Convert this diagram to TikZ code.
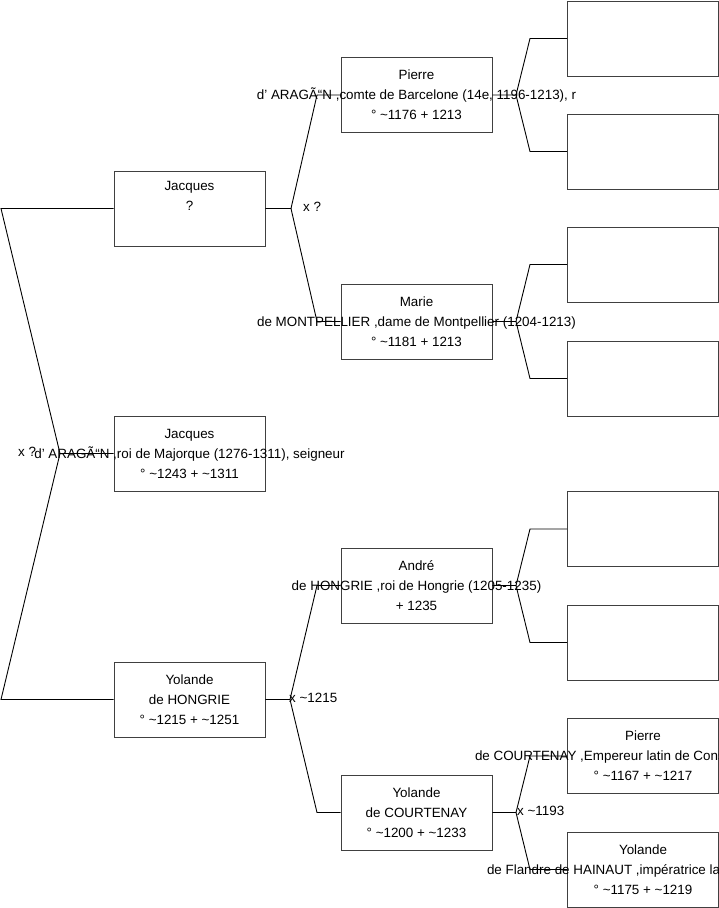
\documentclass[tikz,border=0pt]{standalone}
\usepackage{fontspec}
\setmainfont{Liberation Sans}
\newcommand\ctl[1]{\makebox[0pt]{#1}}
\newcommand\lft[2]{\makebox[0pt][l]{\hspace*{#1}#2}}
\begin{document}
\begin{tikzpicture}[x=1pt,y=-1pt,
  box/.style={draw=black!75,line width=0.9pt,rectangle,minimum width=151pt,minimum height=75pt,inner sep=0pt,align=center,font=\fontsize{13.4}{20}\selectfont},
  conn/.style={draw=black,line width=0.9pt},
  lbl/.style={anchor=west,inner sep=0pt,font=\fontsize{13.4}{15}\selectfont}]
\useasboundingbox (0,0) rectangle (719,908);
% generation 1
\node[box] (jm) at (189.5,453.5) {\ctl{Jacques}\\\ctl{d' ARAGÃ“N ,roi de Majorque (1276-1311), seigneur}\\\ctl{° \textasciitilde1243 + \textasciitilde1311}};
% generation 2
\node[box] (j1) at (189.5,208.5) {\ctl{Jacques}\\\ctl{?}\\\strut};
\node[box] (yh) at (189.5,699.5) {\ctl{Yolande}\\\ctl{de HONGRIE}\\\ctl{° \textasciitilde1215 + \textasciitilde1251}};
% generation 3
\node[box] (p1) at (416.5,95) {\ctl{Pierre}\\\ctl{d' ARAGÃ“N ,comte de Barcelone (14e, 1196-1213), r}\\\ctl{° \textasciitilde1176 + 1213}};
\node[box] (ma) at (416.5,321.5) {\ctl{Marie}\\\ctl{de MONTPELLIER ,dame de Montpellier (1204-1213)}\\\ctl{° \textasciitilde1181 + 1213}};
\node[box] (an) at (416.5,585.5) {\ctl{André}\\\ctl{de HONGRIE ,roi de Hongrie (1205-1235)}\\\ctl{+ 1235}};
\node[box] (yc) at (416.5,812.5) {\ctl{Yolande}\\\ctl{de COURTENAY}\\\ctl{° \textasciitilde1200 + \textasciitilde1233}};
% generation 4
\node[box] (r1) at (643,38.5) {};
\node[box] (r2) at (643,151.5) {};
\node[box] (r3) at (643,264.5) {};
\node[box] (r4) at (643,378.5) {};
\node[box] (r5) at (643,529) {};
\node[box] (r6) at (643,642.5) {};
\node[box] (r7) at (643,756) {\ctl{Pierre}\\\lft{-168pt}{de COURTENAY ,Empereur latin de Cons}\\\ctl{° \textasciitilde1167 + \textasciitilde1217}};
\node[box] (r8) at (643,869.5) {\ctl{Yolande}\\\lft{-156pt}{de Flandre de HAINAUT ,impératrice la}\\\ctl{° \textasciitilde1175 + \textasciitilde1219}};
% fork points
\coordinate (f0) at (60,453.5);
\coordinate (f0a) at (1,208.5);
\coordinate (f0b) at (1,699.5);
\coordinate (f1) at (291,208.5);
\coordinate (f1a) at (317,95);
\coordinate (f1b) at (317,321.5);
\coordinate (f2) at (290,699.5);
\coordinate (f2a) at (317,585.5);
\coordinate (f2b) at (317,812.5);
\coordinate (f3) at (516,95);
\coordinate (f3a) at (530,38.5);
\coordinate (f3b) at (530,151.5);
\coordinate (f4) at (516,321.5);
\coordinate (f4a) at (530,264.5);
\coordinate (f4b) at (530,378.5);
\coordinate (f5) at (516,585.5);
\coordinate (f5a) at (530,529);
\coordinate (f5b) at (530,642.5);
\coordinate (f6) at (516,812.5);
\coordinate (f6a) at (530,756);
\coordinate (f6b) at (530,869.5);
% connectors
\draw[conn] (jm.west) -- (f0) -- (f0a) -- (j1.west);
\draw[conn] (f0) -- (f0b) -- (yh.west);
\draw[conn] (j1.east) -- (f1) -- (f1a) -- (p1.west);
\draw[conn] (f1) -- (f1b) -- (ma.west);
\draw[conn] (yh.east) -- (f2) -- (f2a) -- (an.west);
\draw[conn] (f2) -- (f2b) -- (yc.west);
\draw[conn] (p1.east) -- (f3) -- (f3a) -- (r1.west);
\draw[conn] (f3) -- (f3b) -- (r2.west);
\draw[conn] (ma.east) -- (f4) -- (f4a) -- (r3.west);
\draw[conn] (f4) -- (f4b) -- (r4.west);
\draw[conn] (an.east) -- (f5) -- (f5a) -- (r5.west);
\draw[conn] (f5) -- (f5b) -- (r6.west);
\draw[conn] (yc.east) -- (f6) -- (f6a) -- (r7.west);
\draw[conn] (f6) -- (f6b) -- (r8.west);
% marriage labels
\node[lbl] (m0) at (18,452) {x ?};
\node[lbl] (m1) at (303,207) {x ?};
\node[lbl] (m2) at (289,698) {x \textasciitilde1215};
\node[lbl] (m3) at (517,811) {x \textasciitilde1193};
\end{tikzpicture}
\end{document}
